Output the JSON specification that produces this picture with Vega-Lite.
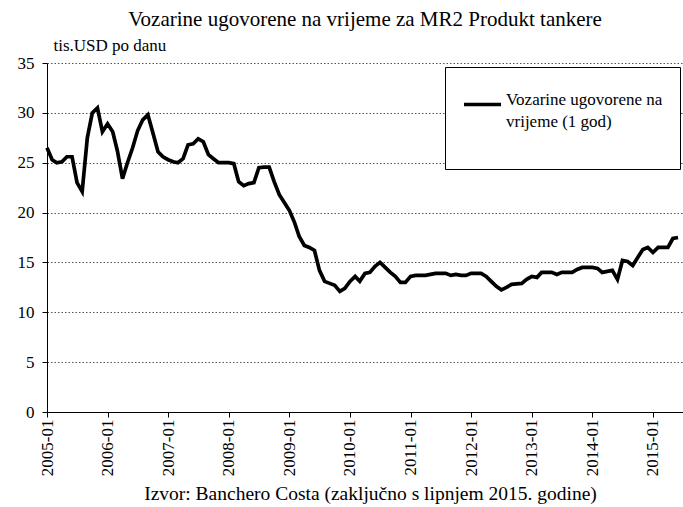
{
  "$schema": "https://vega.github.io/schema/vega-lite/v6.json",
  "width": 636,
  "height": 349,
  "autosize": "none",
  "padding": {"left": 47, "top": 63, "right": 0, "bottom": 95},
  "background": "white",
  "title": {
    "text": "Vozarine ugovorene na vrijeme za MR2 Produkt tankere",
    "font": "Liberation Serif, Times New Roman, serif",
    "fontSize": 21,
    "fontWeight": "normal",
    "color": "black",
    "anchor": "middle",
    "frame": "group",
    "offset": 6
  },
  "data": {
    "values": [
      {"month": "2005-01-01", "value": 26.5},
      {"month": "2005-02-01", "value": 25.3},
      {"month": "2005-03-01", "value": 25.0},
      {"month": "2005-04-01", "value": 25.1},
      {"month": "2005-05-01", "value": 25.6},
      {"month": "2005-06-01", "value": 25.6},
      {"month": "2005-07-01", "value": 23.0},
      {"month": "2005-08-01", "value": 22.1},
      {"month": "2005-09-01", "value": 27.5},
      {"month": "2005-10-01", "value": 30.0},
      {"month": "2005-11-01", "value": 30.5},
      {"month": "2005-12-01", "value": 28.1},
      {"month": "2006-01-01", "value": 28.9},
      {"month": "2006-02-01", "value": 28.1},
      {"month": "2006-03-01", "value": 26.2},
      {"month": "2006-04-01", "value": 23.4},
      {"month": "2006-05-01", "value": 25.0},
      {"month": "2006-06-01", "value": 26.5},
      {"month": "2006-07-01", "value": 28.2},
      {"month": "2006-08-01", "value": 29.3},
      {"month": "2006-09-01", "value": 29.8},
      {"month": "2006-10-01", "value": 28.0},
      {"month": "2006-11-01", "value": 26.1},
      {"month": "2006-12-01", "value": 25.6},
      {"month": "2007-01-01", "value": 25.3},
      {"month": "2007-02-01", "value": 25.1},
      {"month": "2007-03-01", "value": 25.0},
      {"month": "2007-04-01", "value": 25.4},
      {"month": "2007-05-01", "value": 26.8},
      {"month": "2007-06-01", "value": 26.9},
      {"month": "2007-07-01", "value": 27.4},
      {"month": "2007-08-01", "value": 27.1},
      {"month": "2007-09-01", "value": 25.8},
      {"month": "2007-10-01", "value": 25.4},
      {"month": "2007-11-01", "value": 25.0},
      {"month": "2007-12-01", "value": 25.0},
      {"month": "2008-01-01", "value": 25.0},
      {"month": "2008-02-01", "value": 24.9},
      {"month": "2008-03-01", "value": 23.1},
      {"month": "2008-04-01", "value": 22.7},
      {"month": "2008-05-01", "value": 22.9},
      {"month": "2008-06-01", "value": 23.0},
      {"month": "2008-07-01", "value": 24.5},
      {"month": "2008-08-01", "value": 24.55},
      {"month": "2008-09-01", "value": 24.55},
      {"month": "2008-10-01", "value": 23.1},
      {"month": "2008-11-01", "value": 21.8},
      {"month": "2008-12-01", "value": 21.0},
      {"month": "2009-01-01", "value": 20.2},
      {"month": "2009-02-01", "value": 19.0},
      {"month": "2009-03-01", "value": 17.6},
      {"month": "2009-04-01", "value": 16.7},
      {"month": "2009-05-01", "value": 16.5},
      {"month": "2009-06-01", "value": 16.2},
      {"month": "2009-07-01", "value": 14.2},
      {"month": "2009-08-01", "value": 13.1},
      {"month": "2009-09-01", "value": 12.9},
      {"month": "2009-10-01", "value": 12.7},
      {"month": "2009-11-01", "value": 12.1},
      {"month": "2009-12-01", "value": 12.4},
      {"month": "2010-01-01", "value": 13.1},
      {"month": "2010-02-01", "value": 13.6},
      {"month": "2010-03-01", "value": 13.1},
      {"month": "2010-04-01", "value": 13.9},
      {"month": "2010-05-01", "value": 14.0},
      {"month": "2010-06-01", "value": 14.6},
      {"month": "2010-07-01", "value": 15.0},
      {"month": "2010-08-01", "value": 14.5},
      {"month": "2010-09-01", "value": 14.0},
      {"month": "2010-10-01", "value": 13.6},
      {"month": "2010-11-01", "value": 13.0},
      {"month": "2010-12-01", "value": 13.0},
      {"month": "2011-01-01", "value": 13.6},
      {"month": "2011-02-01", "value": 13.7},
      {"month": "2011-03-01", "value": 13.7},
      {"month": "2011-04-01", "value": 13.7},
      {"month": "2011-05-01", "value": 13.8},
      {"month": "2011-06-01", "value": 13.9},
      {"month": "2011-07-01", "value": 13.9},
      {"month": "2011-08-01", "value": 13.9},
      {"month": "2011-09-01", "value": 13.7},
      {"month": "2011-10-01", "value": 13.8},
      {"month": "2011-11-01", "value": 13.7},
      {"month": "2011-12-01", "value": 13.7},
      {"month": "2012-01-01", "value": 13.9},
      {"month": "2012-02-01", "value": 13.9},
      {"month": "2012-03-01", "value": 13.9},
      {"month": "2012-04-01", "value": 13.6},
      {"month": "2012-05-01", "value": 13.1},
      {"month": "2012-06-01", "value": 12.6},
      {"month": "2012-07-01", "value": 12.25},
      {"month": "2012-08-01", "value": 12.5},
      {"month": "2012-09-01", "value": 12.8},
      {"month": "2012-10-01", "value": 12.85},
      {"month": "2012-11-01", "value": 12.9},
      {"month": "2012-12-01", "value": 13.3},
      {"month": "2013-01-01", "value": 13.6},
      {"month": "2013-02-01", "value": 13.5},
      {"month": "2013-03-01", "value": 14.0},
      {"month": "2013-04-01", "value": 14.0},
      {"month": "2013-05-01", "value": 14.0},
      {"month": "2013-06-01", "value": 13.8},
      {"month": "2013-07-01", "value": 14.0},
      {"month": "2013-08-01", "value": 14.0},
      {"month": "2013-09-01", "value": 14.0},
      {"month": "2013-10-01", "value": 14.3},
      {"month": "2013-11-01", "value": 14.5},
      {"month": "2013-12-01", "value": 14.5},
      {"month": "2014-01-01", "value": 14.5},
      {"month": "2014-02-01", "value": 14.4},
      {"month": "2014-03-01", "value": 14.0},
      {"month": "2014-04-01", "value": 14.1},
      {"month": "2014-05-01", "value": 14.2},
      {"month": "2014-06-01", "value": 13.3},
      {"month": "2014-07-01", "value": 15.2},
      {"month": "2014-08-01", "value": 15.1},
      {"month": "2014-09-01", "value": 14.7},
      {"month": "2014-10-01", "value": 15.5},
      {"month": "2014-11-01", "value": 16.3},
      {"month": "2014-12-01", "value": 16.5},
      {"month": "2015-01-01", "value": 16.0},
      {"month": "2015-02-01", "value": 16.5},
      {"month": "2015-03-01", "value": 16.5},
      {"month": "2015-04-01", "value": 16.5},
      {"month": "2015-05-01", "value": 17.4},
      {"month": "2015-06-01", "value": 17.5}
    ]
  },
  "transform": [{"calculate": "'Vozarine ugovorene na vrijeme (1 god)'", "as": "series"}],
  "mark": {"type": "line", "strokeWidth": 3.7, "interpolate": "linear"},
  "encoding": {
    "x": {
      "field": "month",
      "type": "temporal",
      "scale": {
        "type": "utc",
        "domain": [
          {"year": 2005, "month": 1, "date": 1, "utc": true},
          {"year": 2015, "month": 7, "date": 1, "utc": true}
        ]
      },
      "axis": {
        "title": "Izvor: Banchero Costa (zaključno s lipnjem 2015. godine)",
        "titleFont": "Liberation Serif, Times New Roman, serif",
        "titleFontSize": 19.5,
        "titleFontWeight": "normal",
        "titleColor": "black",
        "titleBaseline": "alphabetic",
        "titleY": 87,
        "titleX": 323,
        "format": "%Y-%m",
        "tickCount": {"interval": "year", "step": 1},
        "labelAngle": 270,
        "labelFont": "Liberation Serif, Times New Roman, serif",
        "labelFontSize": 17,
        "labelColor": "black",
        "labelPadding": 2,
        "labelOverlap": false,
        "labelFlush": false,
        "grid": false,
        "domainColor": "black",
        "tickColor": "black",
        "tickSize": 5
      }
    },
    "y": {
      "field": "value",
      "type": "quantitative",
      "scale": {"domain": [0, 35], "nice": false},
      "axis": {
        "values": [0, 5, 10, 15, 20, 25, 30, 35],
        "title": "tis.USD po danu",
        "titleAngle": 0,
        "titleAlign": "left",
        "titleBaseline": "alphabetic",
        "titleX": 6,
        "titleY": -13,
        "titleFont": "Liberation Serif, Times New Roman, serif",
        "titleFontSize": 17,
        "titleFontWeight": "normal",
        "titleColor": "black",
        "labelFont": "Liberation Serif, Times New Roman, serif",
        "labelFontSize": 17,
        "labelColor": "black",
        "labelPadding": 8,
        "tickSize": 5,
        "tickColor": "black",
        "domainColor": "black",
        "grid": true,
        "gridColor": "#555555",
        "gridDash": [1.5, 2],
        "gridWidth": 1.2,
        "gridOpacity": 1
      }
    },
    "color": {
      "field": "series",
      "type": "nominal",
      "scale": {"range": ["black"]},
      "legend": {
        "title": null,
        "orient": "none",
        "legendX": 398,
        "legendY": 4,
        "strokeColor": "black",
        "fillColor": "white",
        "padding": 17,
        "symbolType": "stroke",
        "symbolSize": 1369,
        "symbolStrokeWidth": 3.7,
        "labelOffset": 3,
        "labelFont": "Liberation Serif, Times New Roman, serif",
        "labelFontSize": 17,
        "labelColor": "black",
        "labelLimit": 400,
        "labelBaseline": "alphabetic",
        "labelExpr": "['Vozarine ugovorene na', 'vrijeme (1 god)', ' ']",
        "encode": {"labels": {"update": {"lineHeight": {"value": 22}}}}
      }
    }
  },
  "config": {
    "view": {"stroke": null}
  }
}
